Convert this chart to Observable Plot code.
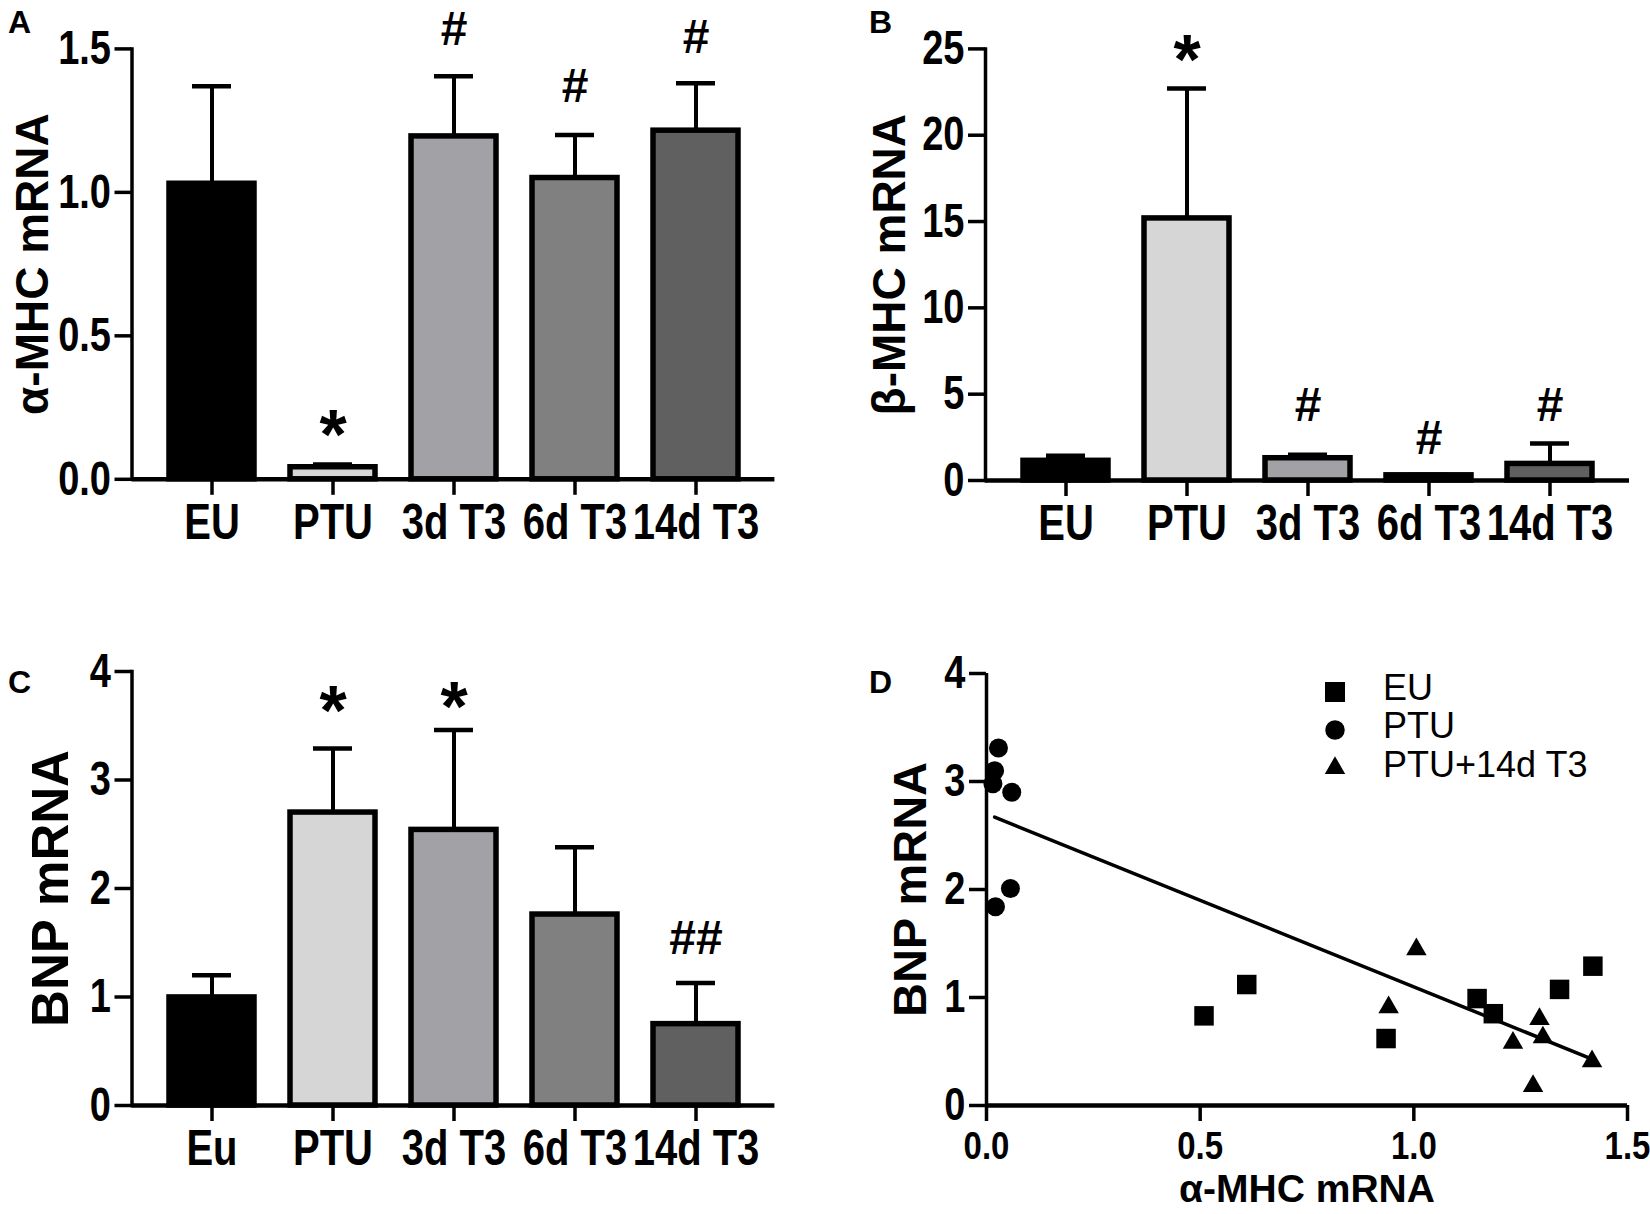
<!DOCTYPE html>
<html><head><meta charset="utf-8">
<script src="https://cdn.jsdelivr.net/npm/d3@7"></script>
<script src="https://cdn.jsdelivr.net/npm/@observablehq/plot@0.6"></script>
<style>
html,body{margin:0;padding:0;background:#fff;}
#fig{position:relative;width:1650px;height:1214px;overflow:hidden;font-family:"Liberation Sans",Arial,sans-serif;color:#000;background:#fff;}
.panel{position:absolute;}
.letter{position:absolute;font-weight:bold;font-size:32px;line-height:1;}
svg text{white-space:pre;}
.legtxt{position:absolute;font-size:36px;line-height:1;white-space:pre;}
.legsym{position:absolute;}
</style></head><body><div id="fig"></div>
<script>
// ---------- data ----------
const groupsAB = ["EU", "PTU", "3d T3", "6d T3", "14d T3"];
const groupsC  = ["Eu", "PTU", "3d T3", "6d T3", "14d T3"];
const barFills = ["#000000", "#d6d6d6", "#a2a2a6", "#808080", "#606060"];

const alphaMean = [1.03, 0.042, 1.195, 1.05, 1.215];
const alphaTop  = [1.37, 0.052, 1.405, 1.20, 1.38];
const alphaMark = ["", "*", "#", "#", "#"];
const alphaMarkY = [null, 0.21, 1.575, 1.375, 1.545];
const alphaTicks = [0, 0.5, 1.0, 1.5];

const betaMean = [1.14, 15.18, 1.29, 0.30, 0.96];
const betaTop  = [1.43, 22.7, 1.49, 0.32, 2.15];
const betaMark = ["", "*", "#", "#", "#"];
const betaMarkY = [null, 25.3, 4.48, 2.55, 4.48];
const betaTicks = [0, 5, 10, 15, 20, 25];

const bnpMean = [0.996, 2.70, 2.54, 1.76, 0.75];
const bnpTop  = [1.20, 3.29, 3.46, 2.38, 1.13];
const bnpMark = ["", "*", "*", "", "##"];
const bnpMarkY = [null, 3.79, 3.82, null, 1.56];
const bnpTicks = [0, 1, 2, 3, 4];

// scatter (panel D)
const euX  = [0.509, 0.609, 0.935, 1.148, 1.186, 1.341, 1.419];
const euY  = [0.83, 1.12, 0.62, 0.99, 0.85, 1.075, 1.29];
const ptuX = [0.028, 0.019, 0.015, 0.059, 0.056, 0.021];
const ptuY = [3.31, 3.10, 2.98, 2.90, 2.01, 1.84];
const t3X  = [1.006, 0.941, 1.232, 1.279, 1.294, 1.302, 1.417];
const t3Y  = [1.445, 0.91, 0.58, 0.18, 0.80, 0.63, 0.41];
const fitX = [0.019, 1.417];
const fitY = [2.67, 0.43];
const scatterXTicks = [0, 0.5, 1.0, 1.5];
const scatterYTicks = [0, 1, 2, 3, 4];
const legendLabels = ["EU", "PTU", "PTU+14d T3"];

// ---------- helpers ----------
const FONT = '"Liberation Sans", Arial, sans-serif';
const fig = document.getElementById("fig");
function place(node, left, top) {
  const d = document.createElement("div");
  d.className = "panel";
  d.style.left = left + "px";
  d.style.top = top + "px";
  d.appendChild(node);
  fig.appendChild(d);
}
// the reference typography is taller than it is wide: stretch glyphs vertically about their anchor
function stretch(svg, selector, k) {
  svg.querySelectorAll(selector).forEach(el => {
    let t = el.getAttribute("transform");
    if (!t) {
      const x = +el.getAttribute("x") || 0, y = +el.getAttribute("y") || 0;
      el.removeAttribute("x"); el.removeAttribute("y");
      t = `translate(${x},${y})`;
    }
    el.setAttribute("transform", `${t} scale(1,${k})`);
  });
  return svg;
}
function stretchAll(svg, kx, ky, kt) {
  stretch(svg, 'g[aria-label="x-axis tick label"] text', kx);
  stretch(svg, 'g[aria-label="y-axis tick label"] text', ky);
  stretch(svg, 'g[aria-label="title"] text', kt);
  return svg;
}
function zipRows(cats, mean, top, mark, markY) {
  return cats.map((c, i) => ({cat: c, mean: mean[i], top: top[i], fill: barFills[i], mark: mark[i], markY: markY[i]}));
}

function barPanel(o) {
  const rows = zipRows(o.cats, o.mean, o.top, o.mark, o.markY);
  const stars = rows.filter(d => d.mark === "*");
  const hashes = rows.filter(d => d.mark && d.mark !== "*");
  const svg = Plot.plot({
    width: o.width, height: o.height,
    marginLeft: o.mL, marginRight: o.mR, marginTop: o.mT, marginBottom: o.mB,
    x: {domain: o.cats, padding: 0.30, axis: null},
    y: {domain: o.yDomain, axis: null},
    color: {type: "identity"},
    style: {fontFamily: FONT, color: "black", background: "transparent", overflow: "visible"},
    marks: [
      Plot.barY(rows, {x: "cat", y: "mean", fill: "fill", stroke: "black", strokeWidth: 5.5}),
      Plot.ruleX(rows, {x: "cat", y1: "mean", y2: "top", strokeWidth: 4}),
      Plot.tickY(rows, {x: "cat", y: "top", strokeWidth: 4.5, insetLeft: 23, insetRight: 23}),
      Plot.frame({anchor: "left", strokeWidth: 3.5}),
      Plot.ruleY([0], {strokeWidth: 4.5}),
      Plot.axisY({ticks: o.yTicks, tickSize: 17, tickPadding: 4, tickFormat: o.yFmt, fontSize: 38, fontWeight: "bold", strokeWidth: 3.5, label: null}),
      Plot.axisX({tickSize: 16, tickPadding: 8, fontSize: 40, fontWeight: "bold", strokeWidth: 3.5, label: null}),
      Plot.text(stars, {x: "cat", y: "markY", text: "mark", fontSize: 70, fontWeight: "bold", dy: 18}),
      Plot.text(hashes, {x: "cat", y: "markY", text: "mark", fontSize: 48, fontWeight: "bold", dy: 2}),
      Plot.text([o.title], {ariaLabel: "title", frameAnchor: "left", textAnchor: "middle", lineAnchor: "middle", rotate: -90, dx: -o.titleOffset, fontSize: o.titleSize, fontWeight: "bold"})
    ]
  });
  return stretchAll(svg, 1.25, 1.25, 1.2);
}

// ---------- panels ----------
place(barPanel({cats: groupsAB, mean: alphaMean, top: alphaTop, mark: alphaMark, markY: alphaMarkY,
  yDomain: [0, 1.5], yTicks: alphaTicks, yFmt: d3.format(".1f"),
  width: 820, height: 580, mL: 131.5, mR: 45.6, mT: 48.4, mB: 101.2,
  title: "α-MHC mRNA", titleOffset: 99, titleSize: 46}), 0, 0);

place(barPanel({cats: groupsAB, mean: betaMean, top: betaTop, mark: betaMark, markY: betaMarkY,
  yDomain: [0, 25], yTicks: betaTicks, yFmt: d3.format("d"),
  width: 830, height: 580, mL: 165, mR: 21, mT: 48.4, mB: 100,
  title: "β-MHC mRNA", titleOffset: 95, titleSize: 46}), 820, 0);

place(barPanel({cats: groupsC, mean: bnpMean, top: bnpTop, mark: bnpMark, markY: bnpMarkY,
  yDomain: [0, 4], yTicks: bnpTicks, yFmt: d3.format("d"),
  width: 820, height: 614, mL: 131.5, mR: 45.6, mT: 71, mB: 109,
  title: "BNP mRNA", titleOffset: 80, titleSize: 51}), 0, 600);

const euRows = euX.map((x, i) => ({x, y: euY[i]}));
const ptuRows = ptuX.map((x, i) => ({x, y: ptuY[i]}));
const t3Rows = t3X.map((x, i) => ({x, y: t3Y[i]}));
const fitRows = fitX.map((x, i) => ({x, y: fitY[i]}));

place(stretchAll(Plot.plot({
  width: 830, height: 614, marginLeft: 166, marginRight: 23, marginTop: 73, marginBottom: 109,
  x: {domain: [0, 1.5], axis: null},
  y: {domain: [0, 4], axis: null},
  style: {fontFamily: FONT, color: "black", background: "transparent", overflow: "visible"},
  marks: [
    Plot.ruleX([0], {strokeWidth: 3.5}),
    Plot.ruleY([0], {strokeWidth: 4.5}),
    Plot.axisY({ticks: scatterYTicks, tickSize: 17, tickPadding: 4, tickFormat: d3.format("d"), fontSize: 38, fontWeight: "bold", strokeWidth: 3.5, label: null}),
    Plot.axisX({ticks: scatterXTicks, tickSize: 16, tickPadding: 9, tickFormat: d3.format(".1f"), fontSize: 33, fontWeight: "bold", strokeWidth: 3.5, label: null}),
    Plot.line(fitRows, {x: "x", y: "y", strokeWidth: 3.5}),
    Plot.dot(euRows, {x: "x", y: "y", symbol: "square", r: 11, fill: "black"}),
    Plot.dot(ptuRows, {x: "x", y: "y", symbol: "circle", r: 9.5, fill: "black"}),
    Plot.dot(t3Rows, {x: "x", y: "y", symbol: "triangle", r: 7.6, fill: "black"}),
    Plot.text(["α-MHC mRNA"], {ariaLabel: "title", frameAnchor: "bottom", textAnchor: "middle", lineAnchor: "middle", dy: 84, fontSize: 39, fontWeight: "bold"}),
    Plot.text(["BNP mRNA"], {ariaLabel: "title", frameAnchor: "left", textAnchor: "middle", lineAnchor: "middle", rotate: -90, dx: -76, fontSize: 47, fontWeight: "bold"})
  ]
}), 1.2, 1.2, 1.2), 820, 600);

// ---------- panel letters ----------
[["A", 8, 6], ["B", 869, 6], ["C", 8, 666], ["D", 869, 666]].forEach(([t, l, tp]) => {
  const d = document.createElement("div");
  d.className = "letter"; d.textContent = t;
  d.style.left = l + "px"; d.style.top = tp + "px";
  fig.appendChild(d);
});

// ---------- legend for D ----------
const legSyms = ["square", "circle", "triangle"];
const legSymY = [692, 730, 768];
const legTxtY = [688, 726, 765];
legendLabels.forEach((lab, i) => {
  const s = document.createElementNS("http://www.w3.org/2000/svg", "svg");
  s.setAttribute("width", 30); s.setAttribute("height", 30);
  s.setAttribute("class", "legsym");
  s.style.left = (1335 - 15) + "px"; s.style.top = (legSymY[i] - 15) + "px";
  const p = document.createElementNS("http://www.w3.org/2000/svg", "path");
  const sym = {square: d3.symbolSquare, circle: d3.symbolCircle, triangle: d3.symbolTriangle}[legSyms[i]];
  const size = {square: 400, circle: 300, triangle: 180}[legSyms[i]];
  p.setAttribute("d", d3.symbol(sym, size)());
  p.setAttribute("transform", "translate(15,15)");
  s.appendChild(p);
  fig.appendChild(s);
  const t = document.createElement("div");
  t.className = "legtxt"; t.textContent = lab;
  t.style.left = "1383px"; t.style.top = (legTxtY[i] - 17.6) + "px";
  fig.appendChild(t);
});
</script></body></html>
